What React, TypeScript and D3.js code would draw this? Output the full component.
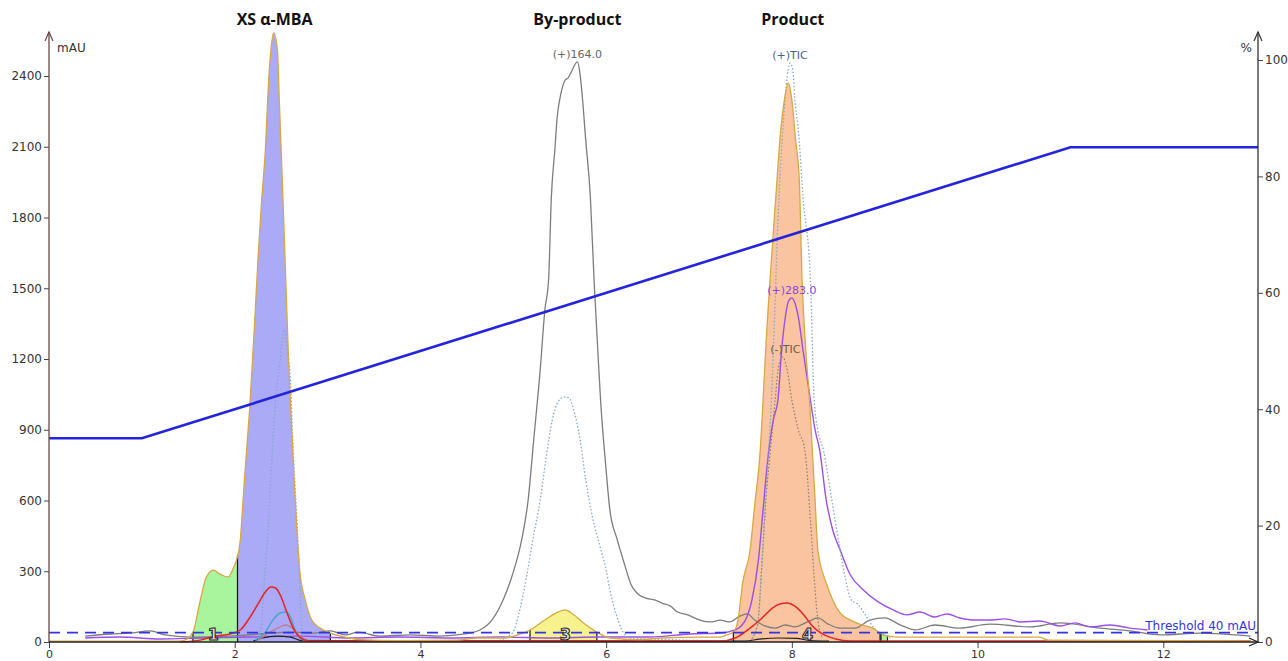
import { useEffect, useRef } from 'react';
import * as d3 from 'd3';

type Pt = [number, number];

// axis ticks
const xTicks = [0, 2, 4, 6, 8, 10, 12];
const mauTicks = [0, 300, 600, 900, 1200, 1500, 1800, 2100, 2400];
const pctTicks = [0, 20, 40, 60, 80, 100];

// UV trace (mAU vs min)
const uvTrace: Pt[] = [
  [0, 4], [1.40, 4], [1.46, 8], [1.55, 42], [1.63, 178], [1.69, 271], [1.77, 305], [1.84, 288],
  [1.93, 276], [1.99, 318], [2.02, 348], [2.06, 433], [2.09, 602], [2.12, 772], [2.16, 984],
  [2.21, 1323], [2.25, 1620], [2.29, 1874], [2.33, 2087], [2.36, 2341], [2.39, 2511], [2.42, 2583],
  [2.46, 2511], [2.48, 2299], [2.50, 2087], [2.52, 1874], [2.55, 1535], [2.58, 1196], [2.61, 941],
  [2.64, 687], [2.67, 475], [2.70, 305], [2.76, 178], [2.83, 93], [2.92, 59], [3.03, 38], [3.19, 21],
  [3.35, 10], [3.78, 6], [4.40, 8], [4.60, 17], [4.91, 17], [5.05, 30], [5.18, 51], [5.34, 93],
  [5.48, 127], [5.56, 136], [5.64, 119], [5.77, 76], [5.90, 42], [6.04, 17], [6.36, 10], [6.60, 17],
  [7.01, 21], [7.23, 21], [7.30, 30], [7.37, 42], [7.42, 93], [7.47, 250], [7.55, 390], [7.60, 581],
  [7.66, 814], [7.69, 1026], [7.73, 1323], [7.765, 1535], [7.81, 1790], [7.84, 1959], [7.88, 2171],
  [7.92, 2299], [7.96, 2371], [8.00, 2299], [8.04, 2129], [8.08, 1959], [8.11, 1535], [8.15, 1238],
  [8.19, 1026], [8.22, 814], [8.25, 602], [8.28, 390], [8.37, 250], [8.44, 178], [8.52, 123],
  [8.63, 93], [8.76, 72], [8.87, 59], [8.95, 38], [9.04, 25], [9.17, 21], [10.67, 21], [10.76, 8],
  [12.94, 4],
];

// (+)164.0 ion trace
const ms164: Pt[] = [
  [0.39, 25], [0.66, 34], [0.87, 38], [1.09, 47], [1.25, 30], [1.52, 21], [1.95, 25], [2.27, 34],
  [2.60, 42], [2.86, 38], [3.03, 47], [3.19, 30], [3.33, 42], [3.56, 25], [3.89, 30], [4.21, 25],
  [4.48, 34], [4.64, 51], [4.77, 93], [4.89, 178], [4.99, 284], [5.09, 433], [5.16, 602], [5.22, 857],
  [5.29, 1154], [5.34, 1408], [5.38, 1535], [5.41, 1887], [5.45, 2099], [5.47, 2214], [5.51, 2320],
  [5.56, 2383], [5.59, 2392], [5.62, 2413], [5.69, 2460], [5.72, 2405], [5.74, 2328], [5.78, 2129],
  [5.83, 1887], [5.87, 1535], [5.91, 1238], [5.94, 1026], [6.00, 729], [6.04, 560], [6.12, 433],
  [6.20, 327], [6.27, 242], [6.33, 208], [6.42, 187], [6.53, 178], [6.60, 165], [6.69, 153],
  [6.77, 127], [6.88, 115], [7.01, 93], [7.12, 85], [7.23, 93], [7.33, 85], [7.44, 110], [7.52, 119],
  [7.60, 93], [7.71, 68], [7.82, 59], [7.93, 72], [8.03, 64], [8.17, 85], [8.28, 102], [8.39, 76],
  [8.52, 59], [8.68, 59], [8.84, 93], [9.00, 102], [9.17, 72], [9.33, 51], [9.54, 72], [9.81, 59],
  [10.13, 76], [10.57, 64], [10.89, 81], [11.32, 59], [11.64, 47], [11.97, 30], [12.40, 38], [12.94, 25],
];

// (+)TIC trace
const ticPos: Pt[] = [
  [2.22, 4], [2.28, 51], [2.32, 263], [2.36, 475], [2.40, 772], [2.44, 1026], [2.49, 1196], [2.52, 1302],
  [2.54, 1323], [2.56, 1260], [2.60, 1111], [2.63, 814], [2.67, 517], [2.70, 263], [2.72, 72], [2.77, 8],
  [4.80, 4], [4.99, 38], [5.07, 136], [5.15, 293], [5.21, 433], [5.29, 602], [5.35, 772], [5.42, 941],
  [5.48, 1018], [5.55, 1039], [5.60, 1035], [5.65, 984], [5.72, 857], [5.78, 687], [5.86, 517],
  [5.93, 411], [6.00, 305], [6.04, 221], [6.11, 115], [6.17, 51], [6.26, 17],
  [7.53, 4], [7.63, 72], [7.68, 348], [7.73, 687], [7.78, 1026], [7.82, 1450], [7.85, 1790], [7.88, 2031],
  [7.91, 2214], [7.94, 2362], [7.98, 2455], [8.01, 2426], [8.03, 2311], [8.07, 2171], [8.12, 1887],
  [8.20, 1535], [8.24, 1026], [8.28, 899], [8.34, 814], [8.43, 602], [8.52, 390], [8.58, 263],
  [8.64, 178], [8.71, 161], [8.79, 115], [8.86, 72], [8.95, 38], [9.06, 17],
];

// (-)TIC trace
const ticNeg: Pt[] = [
  [7.55, 4], [7.63, 72], [7.68, 348], [7.72, 602], [7.77, 814], [7.82, 1026], [7.86, 1175], [7.90, 1209],
  [7.95, 1153], [8.00, 1026], [8.07, 899], [8.14, 814], [8.20, 517], [8.25, 221], [8.28, 93], [8.33, 17],
];

// (+)283.0 ion trace
const ms283: Pt[] = [
  [0.39, 17], [0.76, 21], [1.20, 13], [1.63, 17], [2.16, 21], [2.70, 25], [3.24, 17], [3.78, 21],
  [4.32, 17], [4.86, 21], [5.40, 17], [5.93, 21], [6.47, 21], [6.90, 34], [7.23, 38], [7.39, 51],
  [7.50, 93], [7.57, 178], [7.64, 348], [7.69, 560], [7.74, 772], [7.80, 941], [7.85, 1026],
  [7.89, 1238], [7.93, 1378], [7.96, 1442], [8.00, 1459], [8.04, 1429], [8.07, 1378], [8.12, 1238],
  [8.20, 1026], [8.25, 899], [8.30, 814], [8.37, 602], [8.44, 475], [8.52, 390], [8.63, 284],
  [8.77, 221], [8.93, 170], [9.09, 136], [9.24, 115], [9.38, 127], [9.54, 106], [9.67, 119],
  [9.81, 102], [9.97, 93], [10.13, 93], [10.30, 98], [10.46, 85], [10.67, 89], [10.89, 68],
  [11.05, 81], [11.21, 64], [11.43, 72], [11.64, 59], [11.83, 51],
];

// second UV wavelength
const uvRed: Pt[] = [
  [1.41, 0], [1.63, 8], [1.79, 25], [1.95, 34], [2.06, 51], [2.16, 102], [2.25, 161], [2.33, 212],
  [2.39, 233], [2.44, 229], [2.50, 191], [2.56, 127], [2.63, 59], [2.70, 21], [2.81, 4], [7.23, 4],
  [7.39, 17], [7.55, 59], [7.68, 102], [7.79, 144], [7.87, 161], [7.95, 165], [8.03, 153], [8.12, 119],
  [8.22, 68], [8.33, 34], [8.47, 13], [8.63, 4], [12.94, 4],
];

const uvTeal: Pt[] = [
  [2.22, 8], [2.33, 42], [2.41, 93], [2.49, 123], [2.55, 127], [2.60, 106], [2.65, 51], [2.70, 17], [2.78, 4],
];

const uvPink: Pt[] = [
  [2.25, 8], [2.38, 42], [2.49, 64], [2.55, 72], [2.62, 59], [2.70, 25], [2.79, 8],
];

const uvBlack: Pt[] = [
  [2.20, 4], [2.30, 17], [2.45, 25], [2.60, 21], [2.72, 6], [7.50, 4], [7.65, 12], [7.85, 17],
  [8.05, 15], [8.20, 6], [8.40, 4],
];

// solvent gradient (% B)
const gradient: Pt[] = [[0, 35], [1, 35], [11, 85], [13.02, 85]];

const thresholdLevel = 40;

const peakRegions = [
  { id: '1', from: 1.55, to: 2.03, labelAt: 1.77 },
  { id: '2', from: 2.03, to: 3.03, labelAt: null },
  { id: '3', from: 5.18, to: 5.90, labelAt: 5.56 },
  { id: '4', from: 7.37, to: 8.95, labelAt: 8.17 },
  { id: '5', from: 8.96, to: 9.03, labelAt: null },
];
const regionFill: Record<string, string> = {
  '1': '#a8f59e', '2': '#aaaaf6', '3': '#f6f28e', '4': '#f9c49f', '5': '#a8f59e',
};

const compounds = [
  { name: 'XS α-MBA', t: 2.43 },
  { name: 'By-product', t: 5.69 },
  { name: 'Product', t: 8.01 },
];

const annotations = [
  { text: '(+)164.0', t: 5.69, v: 2460, color: '#666' },
  { text: '(+)TIC', t: 7.98, v: 2455, color: '#3d6490' },
  { text: '(+)283.0', t: 8.0, v: 1459, color: '#8a44e6' },
  { text: '(-)TIC', t: 7.93, v: 1209, color: '#6a5a50' },
];

function valueAt(series: Pt[], t: number) {
  const i = d3.bisector((d: Pt) => d[0]).left(series, t);
  if (i <= 0) return series[0][1];
  if (i >= series.length) return series[series.length - 1][1];
  const [t0, v0] = series[i - 1];
  const [t1, v1] = series[i];
  return v0 + ((t - t0) / (t1 - t0)) * (v1 - v0);
}

export default function App() {
  const xAxis = useRef<SVGGElement>(null);
  const mauAxis = useRef<SVGGElement>(null);
  const pctAxis = useRef<SVGGElement>(null);

  const W = 1288;
  const H = 661;
  const margin = { left: 49, right: 30, top: 76, bottom: 19 };
  const axisTop = 32;
  const font = 'DejaVu Sans, sans-serif';

  const x = d3.scaleLinear().domain([0, 13.02]).range([margin.left, W - margin.right]);
  const y = d3.scaleLinear().domain([0, 2400]).range([H - margin.bottom, margin.top]);
  const yPct = d3.scaleLinear().domain([0, 100]).range([H - margin.bottom, 60]);

  const x0 = x.range()[0];
  const x1 = x.range()[1];
  const y0 = y(0);

  const line = d3.line<Pt>().x((d) => x(d[0])).y((d) => y(d[1])).curve(d3.curveMonotoneX);
  const pctLine = d3.line<Pt>().x((d) => x(d[0])).y((d) => yPct(d[1]));
  const area = d3.area<Pt>().x((d) => x(d[0])).y0(y0).y1((d) => y(d[1])).curve(d3.curveMonotoneX);

  useEffect(() => {
    const style = (size: number) => (g: any) => {
      g.attr('font-family', font).attr('font-size', size);
      g.select('.domain').remove();
      g.selectAll('text').attr('fill', '#333');
      g.selectAll('line').attr('stroke', '#444');
    };
    d3.select(xAxis.current)
      .call(d3.axisBottom(x).tickValues(xTicks).tickSize(6).tickPadding(2).tickFormat(d3.format('d')) as any)
      .call(style(11));
    d3.select(mauAxis.current)
      .call(d3.axisLeft(y).tickValues(mauTicks).tickSize(5).tickPadding(2).tickFormat(d3.format('d')) as any)
      .call(style(12));
    d3.select(pctAxis.current)
      .call(d3.axisRight(yPct).tickValues(pctTicks).tickSize(5).tickPadding(2).tickFormat(d3.format('d')) as any)
      .call(style(12));
  }, []);

  const boundaries = Array.from(new Set(peakRegions.flatMap((r) => [r.from, r.to])));

  return (
    <svg width={W} height={H} style={{ position: 'absolute', left: 0, top: 0, background: '#fff' }}>
      <defs>
        {peakRegions.map((r) => (
          <clipPath id={`clip-${r.id}`} key={r.id}>
            <rect x={x(r.from)} y={0} width={x(r.to) - x(r.from)} height={y0} />
          </clipPath>
        ))}
      </defs>

      {/* compound titles */}
      {compounds.map((c) => (
        <text key={c.name} x={x(c.t)} y={25} textAnchor="middle" fontFamily="Open Sans, sans-serif"
          fontWeight="bold" fontSize={16} fill="#111">{c.name}</text>
      ))}

      {/* integrated peaks */}
      {peakRegions.map((r) => (
        <path key={r.id} d={area(uvTrace) || ''} fill={regionFill[r.id]} clipPath={`url(#clip-${r.id})`} />
      ))}

      {/* drop lines */}
      {boundaries.map((b) => (
        <line key={b} x1={x(b)} x2={x(b)} y1={y0} y2={y(valueAt(uvTrace, b))} stroke="#111" strokeWidth={1.2} />
      ))}

      {/* traces */}
      <path d={line(ms164) || ''} fill="none" stroke="#7c7c7c" strokeWidth={1.3} />
      <path d={line(ms283) || ''} fill="none" stroke="#9b4fe8" strokeWidth={1.4} />
      <path d={line(ticNeg) || ''} fill="none" stroke="#8a7c74" strokeWidth={1.2} strokeDasharray="1.5,2" />
      <path d={line(ticPos) || ''} fill="none" stroke="#86a8c8" strokeWidth={1.3} strokeDasharray="1.5,2" />
      <path d={line(uvBlack) || ''} fill="none" stroke="#222" strokeWidth={1.2} />
      <path d={line(uvPink) || ''} fill="none" stroke="#c27a92" strokeWidth={1.3} />
      <path d={line(uvTeal) || ''} fill="none" stroke="#3fa8c2" strokeWidth={1.4} />
      <path d={line(uvRed) || ''} fill="none" stroke="#e82222" strokeWidth={1.5} />
      <path d={line(uvTrace) || ''} fill="none" stroke="#d7a842" strokeWidth={1.3} />

      {/* gradient */}
      <path d={pctLine(gradient) || ''} fill="none" stroke="#2323dd" strokeWidth={2.6} />

      {/* threshold */}
      <line x1={x0} x2={x1} y1={y(thresholdLevel)} y2={y(thresholdLevel)} stroke="#3434e2"
        strokeWidth={1.8} strokeDasharray="11,7" />
      <text x={x1 - 2} y={y(thresholdLevel) - 3} textAnchor="end" fontFamily={font} fontSize={12}
        fill="#3434e2">{`Threshold ${thresholdLevel} mAU`}</text>

      {/* region numbers */}
      {peakRegions.filter((r) => r.labelAt !== null).map((r) => (
        <text key={r.id} x={x(r.labelAt as number)} y={640} textAnchor="middle" fontFamily={font}
          fontWeight="bold" fontSize={16} fill="#e2e2e2" stroke="#222" strokeWidth={1}>{r.id}</text>
      ))}

      {/* trace annotations */}
      {annotations.map((a) => (
        <text key={a.text} x={x(a.t)} y={y(a.v) - 4} textAnchor="middle" fontFamily={font}
          fontSize={11} fill={a.color}>{a.text}</text>
      ))}

      {/* axes */}
      <g ref={xAxis} transform={`translate(0, ${y0})`} />
      <g ref={mauAxis} transform={`translate(${x0}, 0)`} />
      <g ref={pctAxis} transform={`translate(${x1}, 0)`} />

      <line x1={x0} x2={x0} y1={y0} y2={axisTop} stroke="#6a4646" strokeWidth={1.3} />
      <path d={`M${x0 - 4},${axisTop + 9}L${x0},${axisTop}L${x0 + 4},${axisTop + 9}`} fill="none" stroke="#6a4646" strokeWidth={1.2} />
      <line x1={x1} x2={x1} y1={y0} y2={axisTop} stroke="#333" strokeWidth={1.3} />
      <path d={`M${x1 - 4},${axisTop + 9}L${x1},${axisTop}L${x1 + 4},${axisTop + 9}`} fill="none" stroke="#333" strokeWidth={1.2} />
      <line x1={x0} x2={x1} y1={y0} y2={y0} stroke="#222" strokeWidth={1.4} />
      <path d={`M${x1 - 9},${y0 - 4}L${x1},${y0}L${x1 - 9},${y0 + 4}`} fill="none" stroke="#222" strokeWidth={1.3} />

      <text x={x0 + 8} y={52} fontFamily={font} fontSize={12} fill="#333">mAU</text>
      <text x={x1 - 6} y={52} textAnchor="end" fontFamily={font} fontSize={12} fill="#333">%</text>
    </svg>
  );
}
